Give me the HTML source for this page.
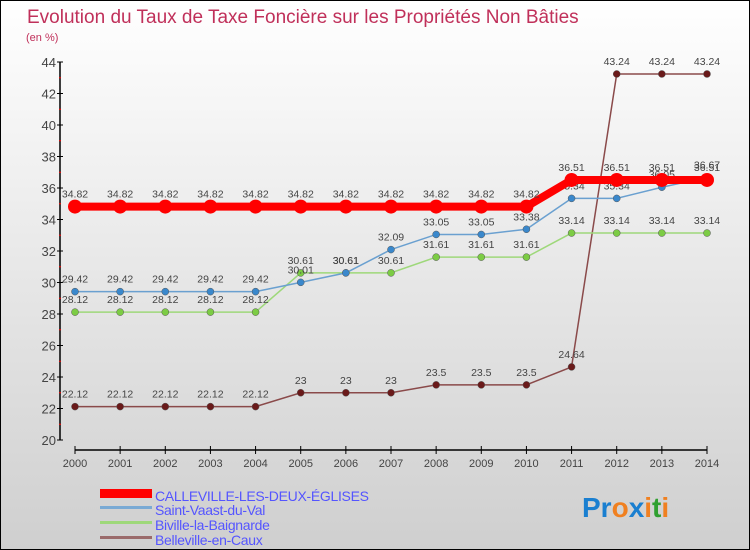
<!DOCTYPE html>
<html><head><meta charset="utf-8"><style>
body{margin:0;}
#wrap{width:750px;height:550px;position:relative;overflow:hidden;}
svg text{font-family:"Liberation Sans","DejaVu Sans",sans-serif;}
</style></head><body>
<div id="wrap">
<svg id="chart" width="750" height="550" xmlns="http://www.w3.org/2000/svg">
<defs><linearGradient id="bg" x1="0" y1="0" x2="0" y2="1"><stop offset="0" stop-color="#ffffff"/><stop offset="1" stop-color="#cfcfcf"/></linearGradient></defs>
<rect x="0.5" y="0.5" width="749" height="549" fill="url(#bg)" stroke="#000"/>
<text x="27" y="23" font-size="19" fill="#c0305a">Evolution du Taux de Taxe Foncière sur les Propriétés Non Bâties</text>
<text x="26" y="41" font-size="11" fill="#c0305a">(en %)</text>
<g id="axes"></g><g id="series"></g>
<g>
<rect x="100" y="489" width="52" height="9" fill="#ff0000"/>
<text x="155" y="501" font-size="14" letter-spacing="-0.3" fill="#5555ff">CALLEVILLE-LES-DEUX-ÉGLISES</text>
<rect x="100" y="506" width="52" height="3" fill="#7aaad4"/>
<text x="155" y="515" font-size="14" letter-spacing="-0.3" fill="#5555ff">Saint-Vaast-du-Val</text>
<rect x="100" y="521" width="52" height="3" fill="#9ed87a"/>
<text x="155" y="530" font-size="14" letter-spacing="-0.3" fill="#5555ff">Biville-la-Baignarde</text>
<rect x="100" y="536" width="52" height="3" fill="#9a6a6a"/>
<text x="155" y="545" font-size="14" letter-spacing="-0.3" fill="#5555ff">Belleville-en-Caux</text>
</g>
<text x="582" y="517" font-size="28" font-weight="bold"><tspan fill="#1a7fd0">Pr</tspan><tspan fill="#f08020">o</tspan><tspan fill="#1a7fd0">x</tspan><tspan fill="#f08020">i</tspan><tspan fill="#30a030">t</tspan><tspan fill="#f08020">i</tspan></text>
</svg></div>
<script>
const years=[2000,2001,2002,2003,2004,2005,2006,2007,2008,2009,2010,2011,2012,2013,2014];
const yTicks=[20,22,24,26,28,30,32,34,36,38,40,42,44];
const calleville=[34.82,34.82,34.82,34.82,34.82,34.82,34.82,34.82,34.82,34.82,34.82,36.51,36.51,36.51,36.51];
const saintVaast=[29.42,29.42,29.42,29.42,29.42,30.01,30.61,32.09,33.05,33.05,33.38,35.34,35.34,36.05,36.67];
const biville=[28.12,28.12,28.12,28.12,28.12,30.61,30.61,30.61,31.61,31.61,31.61,33.14,33.14,33.14,33.14];
const belleville=[22.12,22.12,22.12,22.12,22.12,23,23,23,23.5,23.5,23.5,24.64,43.24,43.24,43.24];
const NS="http://www.w3.org/2000/svg";
const X0=75,X1=707,Y0=440,Y1=62,ymin=20,ymax=44;
const xs=i=>X0+(X1-X0)*i/(years.length-1);
const ys=v=>Y0-(v-ymin)*(Y0-Y1)/(ymax-ymin);
function mk(tag,attrs,parent){const e=document.createElementNS(NS,tag);for(const k in attrs)e.setAttribute(k,attrs[k]);parent.appendChild(e);return e;}
const axes=document.getElementById('axes'),ser=document.getElementById('series');
let a=mk('line',{x1:60,y1:Y0,x2:60,y2:Y1,stroke:'#000','stroke-width':1.5},axes);

a=mk('line',{x1:X0,y1:450,x2:X1,y2:450,stroke:'#000','stroke-width':1.5},axes);

yTicks.forEach(v=>{const y=ys(v);
 mk('line',{x1:57,y1:y,x2:63,y2:y,stroke:'#000'},axes);
 const t=mk('text',{x:56,y:y+5,'font-size':13,fill:'#444','text-anchor':'end'},axes);t.textContent=v;
 
 if(v<44){const ym=ys(v+1);mk('line',{x1:59,y1:ym,x2:61,y2:ym,stroke:'#f00'},axes);}
});
years.forEach((yr,i)=>{const x=xs(i);
 mk('line',{x1:x,y1:446,x2:x,y2:454,stroke:'#000'},axes);
 const t=mk('text',{x:x,y:467,'font-size':11,fill:'#444','text-anchor':'middle'},axes);t.textContent=yr;
 
});
function draw(vals,name,color,dot,lw,r){
 const g=mk('g',{},ser);
 const p=mk('polyline',{points:vals.map((v,i)=>xs(i)+','+ys(v)).join(' '),fill:'none',stroke:color,'stroke-width':lw},g);
 
 vals.forEach((v,i)=>{const c=mk('circle',{cx:xs(i),cy:ys(v),r:r,fill:dot,stroke:lw>3?'none':'#555','stroke-width':0.5},g);
  
  const t=mk('text',{x:xs(i),y:ys(v)-9,'font-size':10.5,fill:'#444','text-anchor':'middle'},g);t.textContent=v;
  });
}
draw(belleville,'belleville','#8a4a4a','#6a1a1a',1.5,3.5);
draw(biville,'biville','#9ed87a','#7ccc44',1.5,3.5);
draw(saintVaast,'saint-vaast','#6aa0d0','#3a88cc',1.5,3.5);
draw(calleville,'calleville','#ff0000','#ff0000',8,7);
</script>
</body></html>
